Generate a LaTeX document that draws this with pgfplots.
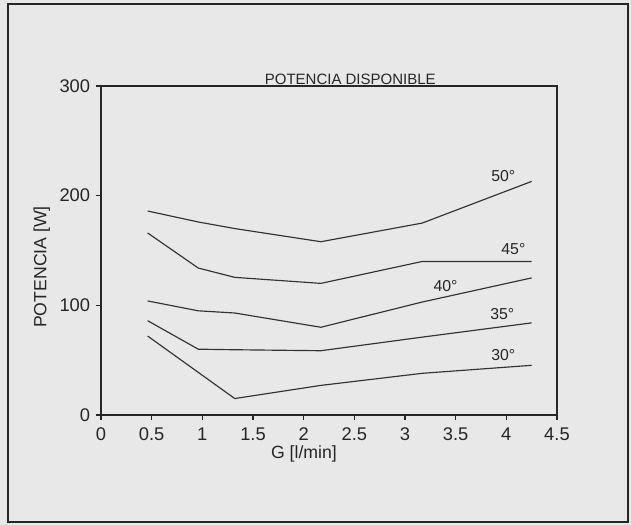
\documentclass[border=0pt]{standalone}
\usepackage{pgfplots}
\pgfplotsset{compat=1.18}
\usepackage{fontspec}
\setmainfont{Liberation Sans}
\begin{document}
\begin{tikzpicture}[x=1pt,y=1pt]
\fill[black!9] (-60.6,-66) rectangle (318,249);
\draw[black!85, line width=1.1pt] (-55.8,-64.2) rectangle (316.2,246.6);
\begin{axis}[
  at={(0,0)}, anchor=south west, scale only axis,
  width=273.6pt, height=197.4pt,
  xmin=0, xmax=4.5, ymin=0, ymax=300,
  xtick={0,0.5,1,1.5,2,2.5,3,3.5,4,4.5},
  ytick={0,100,200,300},
  tick align=outside, tick pos=left,
  major tick length=3pt,
  axis line style={black!85, line width=0.8pt},
  every tick/.style={black!85, line width=0.7pt},
  /pgf/number format/assume math mode=true,
  tick label style={font=\fontsize{11}{13}\selectfont, text=black!85},
  xticklabel style={yshift=-1pt},
  ylabel={POTENCIA [W]},
  ylabel style={font=\fontsize{10.6}{12}\selectfont, text=black!85, at={(axis description cs:-0.13,0.45)}, anchor=center},
  xlabel={G [l/min]},
  xlabel style={font=\fontsize{10.6}{12}\selectfont, text=black!85, at={(axis description cs:0.445,-0.075)}, anchor=north},
  clip=false,
]
\addplot[black!80, line width=0.7pt] coordinates {(0.46,186) (0.96,176) (1.32,170) (2.17,158) (3.17,175) (4.25,213)};
\addplot[black!80, line width=0.7pt] coordinates {(0.46,166) (0.96,134) (1.32,125.5) (2.17,120) (3.17,140) (4.25,140)};
\addplot[black!80, line width=0.7pt] coordinates {(0.46,104) (0.96,95) (1.32,93) (2.17,80) (3.17,103) (4.25,125)};
\addplot[black!80, line width=0.7pt] coordinates {(0.46,86) (0.96,60) (1.32,59.5) (2.17,58.6) (3.17,71) (4.25,84)};
\addplot[black!80, line width=0.7pt] coordinates {(0.46,72) (1.32,15) (2.17,27) (3.17,38) (4.25,45.3)};
\node[font=\fontsize{9.5}{11}\selectfont, text=black!85] at (axis cs:3.97,218) {50°};
\node[font=\fontsize{9.5}{11}\selectfont, text=black!85] at (axis cs:4.07,151) {45°};
\node[font=\fontsize{9.5}{11}\selectfont, text=black!85] at (axis cs:3.40,118) {40°};
\node[font=\fontsize{9.5}{11}\selectfont, text=black!85] at (axis cs:3.96,92) {35°};
\node[font=\fontsize{9.5}{11}\selectfont, text=black!85] at (axis cs:3.97,55) {30°};
\node[font=\fontsize{9}{11}\selectfont, text=black!85, anchor=south, inner sep=1pt] at (axis cs:2.46,299) {POTENCIA DISPONIBLE};
\end{axis}
\end{tikzpicture}
\end{document}
